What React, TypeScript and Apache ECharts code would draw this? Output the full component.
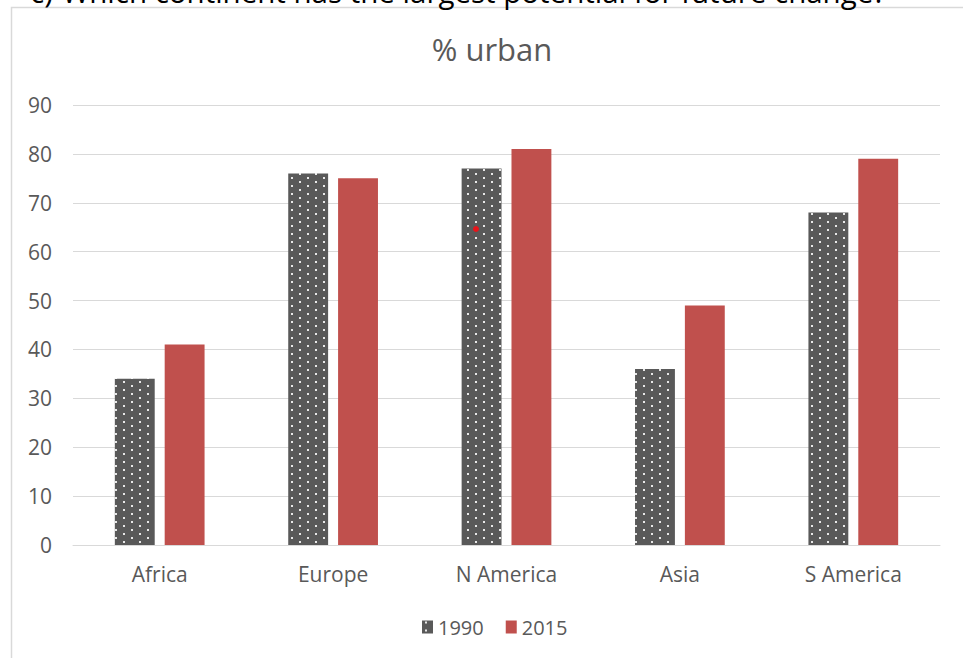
import React, { useEffect, useRef } from "react";
import * as echarts from "echarts";

const categories = ["Africa", "Europe", "N America", "Asia", "S America"];
const values1990 = [34, 76, 77, 36, 68];
const values2015 = [41, 75, 81, 49, 79];
const seriesNames = ["1990", "2015"];
const chartTitle = "% urban";
const questionLabel = "c)";
const questionText = "Which continent has the largest potential for future change?";

function makeDotPattern(): HTMLCanvasElement {
  const c = document.createElement("canvas");
  c.width = 16;
  c.height = 8;
  const ctx = c.getContext("2d")!;
  ctx.fillStyle = "#595959";
  ctx.fillRect(0, 0, 16, 8);
  ctx.fillStyle = "#e8e8e8";
  ctx.fillRect(3, 1, 2, 2);
  ctx.fillRect(11, 5, 2, 2);
  return c;
}

export default function App() {
  const ref = useRef<HTMLDivElement>(null);
  useEffect(() => {
    if (!ref.current) return;
    const chart = echarts.init(ref.current, null, { renderer: "svg" });
    const font = "'Open Sans', 'Liberation Sans', sans-serif";
    const pattern = makeDotPattern();
    chart.setOption({
      animation: false,
      backgroundColor: "#ffffff",
      textStyle: { fontFamily: font },
      title: {
        text: chartTitle,
        left: 487,
        top: 28,
        textAlign: "center",
        textStyle: { fontSize: 31, fontWeight: "normal", color: "#595959", fontFamily: font },
      },
      graphic: [
        {
          type: "rect",
          shape: { x: 11.5, y: 7.5, width: 1000, height: 700 },
          style: { fill: "none", stroke: "#d9d9d9", lineWidth: 1.5 },
          silent: true,
        },
        {
          type: "text",
          x: 30,
          y: 6,
          style: { text: questionLabel, fontSize: 29.5, fill: "#000000", fontFamily: font, verticalAlign: "bottom" },
          silent: true,
        },
        {
          type: "text",
          x: 62,
          y: 6,
          style: { text: questionText, fontSize: 29.5, fill: "#000000", fontFamily: font, verticalAlign: "bottom" },
          silent: true,
        },
        {
          type: "circle",
          shape: { cx: 476, cy: 229, r: 3 },
          style: { fill: "#e8141a" },
          silent: true,
          z: 100,
        },
      ],
      legend: {
        data: seriesNames,
        bottom: 16,
        left: 417,
        itemWidth: 11,
        itemHeight: 13,
        itemGap: 22,
        icon: "rect",
        textStyle: { fontSize: 20, color: "#595959", fontFamily: font },
      },
      grid: { left: 73, right: 23, top: 105, bottom: 113, containLabel: false },
      xAxis: {
        type: "category",
        data: categories,
        axisLine: { lineStyle: { color: "#d9d9d9", width: 1 } },
        axisTick: { show: false },
        axisLabel: { fontSize: 21, color: "#595959", margin: 18, fontFamily: font },
      },
      yAxis: {
        type: "value",
        min: 0,
        max: 90,
        interval: 10,
        axisLine: { show: false },
        axisTick: { show: false },
        splitLine: { lineStyle: { color: "#d9d9d9", width: 1 } },
        axisLabel: { fontSize: 21, color: "#595959", margin: 21, fontFamily: font },
      },
      series: [
        {
          name: seriesNames[0],
          type: "bar",
          data: values1990,
          barWidth: "23%",
          barGap: "25%",
          itemStyle: {
            color: { image: pattern, repeat: "repeat" },
          },
        },
        {
          name: seriesNames[1],
          type: "bar",
          data: values2015,
          barWidth: "23%",
          itemStyle: { color: "#c0504d" },
        },
      ],
    });
    return () => chart.dispose();
  }, []);
  return (
    <div
      ref={ref}
      style={{ position: "fixed", left: 0, top: 0, width: 963, height: 658 }}
    />
  );
}
